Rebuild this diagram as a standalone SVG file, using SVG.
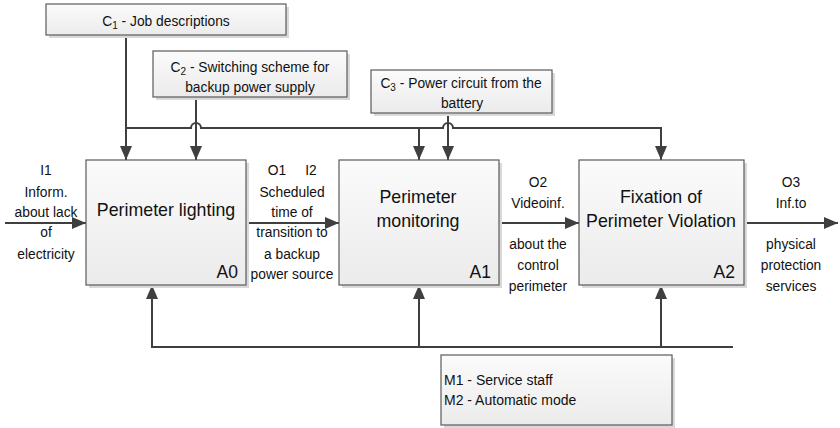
<svg xmlns="http://www.w3.org/2000/svg" width="840" height="428" viewBox="0 0 840 428">
<defs>
<linearGradient id="g" x1="0" y1="0" x2="0" y2="1">
<stop offset="0" stop-color="#fbfbfb"/>
<stop offset="1" stop-color="#ebebeb"/>
</linearGradient>
<marker id="ah" viewBox="0 0 14 12" refX="14" refY="6" markerWidth="14" markerHeight="12" markerUnits="userSpaceOnUse" orient="auto">
<path d="M0,0 L14,6 L0,12 z" fill="#3f3f3f"/>
</marker>
</defs>
<style>
.sh{fill:#d9d9d9}
.bx{fill:url(#g);stroke:#5a5a5a;stroke-width:1.2}
.t{font-family:"Liberation Sans",Arial,sans-serif;fill:#111}
.s{font-size:13.8px;text-anchor:middle}
.big{font-size:17.8px;text-anchor:middle}
.lab{font-size:17.5px;text-anchor:end}
.m{font-size:14px}
.c{fill:none;stroke:#3f3f3f;stroke-width:2}
.a{marker-end:url(#ah)}
</style>
<rect width="840" height="428" fill="#ffffff"/>

<g id="connectors">
<path class="c a" d="M126,35 V160"/>
<path class="c a" d="M126,128 H191 A5,5 0 0 1 201,128 H443 A5,5 0 0 1 453,128 H661 V160"/>
<path class="c a" d="M419,128 V160"/>
<path class="c a" d="M196,97 V160"/>
<path class="c a" d="M448,113 V160"/>
<path class="c a" d="M5,223 H86"/>
<path class="c a" d="M246,223 H339"/>
<path class="c a" d="M499,223 H579"/>
<path class="c a" d="M744,223 H838"/>
<path class="c a" d="M733,347 H152 V285"/>
<path class="c a" d="M419,347 V285"/>
<path class="c a" d="M661,347 V285"/>
</g>

<g id="C1">
<rect class="sh" x="49" y="7" width="240" height="31"/>
<rect class="bx" x="46" y="4" width="240" height="31"/>
<text class="t s" x="166" y="26">C<tspan font-size="10" dy="3">1</tspan><tspan dy="-3"> - Job descriptions</tspan></text>
</g>

<g id="C2">
<rect class="sh" x="156" y="54" width="194" height="46"/>
<rect class="bx" x="153" y="51" width="194" height="46"/>
<text class="t s" x="250" y="72">C<tspan font-size="10" dy="3">2</tspan><tspan dy="-3"> - Switching scheme for</tspan></text>
<text class="t s" x="250" y="92">backup power supply</text>
</g>

<g id="C3">
<rect class="sh" x="374" y="73" width="181" height="43"/>
<rect class="bx" x="371" y="70" width="181" height="43"/>
<text class="t s" x="461" y="88">C<tspan font-size="10" dy="3">3</tspan><tspan dy="-3"> - Power circuit from the</tspan></text>
<text class="t s" x="462" y="108">battery</text>
</g>

<g id="A0">
<rect class="sh" x="89" y="163" width="160" height="125"/>
<rect class="bx" x="86" y="160" width="160" height="125"/>
<text class="t big" x="166" y="216">Perimeter lighting</text>
<text class="t lab" x="238" y="278">A0</text>
</g>

<g id="A1">
<rect class="sh" x="342" y="163" width="160" height="125"/>
<rect class="bx" x="339" y="160" width="160" height="125"/>
<text class="t big" x="418" y="203">Perimeter</text>
<text class="t big" x="418" y="227">monitoring</text>
<text class="t lab" x="491" y="278">A1</text>
</g>

<g id="A2">
<rect class="sh" x="582" y="163" width="165" height="125"/>
<rect class="bx" x="579" y="160" width="165" height="125"/>
<text class="t big" x="661" y="203">Fixation of</text>
<text class="t big" x="661" y="227">Perimeter Violation</text>
<text class="t lab" x="735" y="278">A2</text>
</g>

<g id="M">
<rect class="sh" x="444" y="358" width="231" height="70"/>
<rect class="bx" x="441" y="355" width="231" height="70"/>
<text class="t m" x="444" y="385">M1 - Service staff</text>
<text class="t m" x="444" y="405">M2 - Automatic mode</text>
</g>

<g id="labels">
<text class="t s" x="46" y="175">I1</text>
<text class="t s" x="46" y="197">Inform.</text>
<text class="t s" x="46" y="217">about lack</text>
<text class="t s" x="46" y="237">of</text>
<text class="t s" x="46" y="259">electricity</text>

<text class="t s" x="277" y="175">O1</text>
<text class="t s" x="311" y="175">I2</text>
<text class="t s" x="292" y="197">Scheduled</text>
<text class="t s" x="292" y="217">time of</text>
<text class="t s" x="292" y="237">transition to</text>
<text class="t s" x="292" y="259">a backup</text>
<text class="t s" x="292" y="279">power source</text>

<text class="t s" x="538" y="187">O2</text>
<text class="t s" x="538" y="208">Videoinf.</text>
<text class="t s" x="538" y="249">about the</text>
<text class="t s" x="538" y="270">control</text>
<text class="t s" x="538" y="291">perimeter</text>

<text class="t s" x="791" y="187">O3</text>
<text class="t s" x="791" y="208">Inf.to</text>
<text class="t s" x="791" y="249">physical</text>
<text class="t s" x="791" y="270">protection</text>
<text class="t s" x="791" y="291">services</text>
</g>
</svg>
